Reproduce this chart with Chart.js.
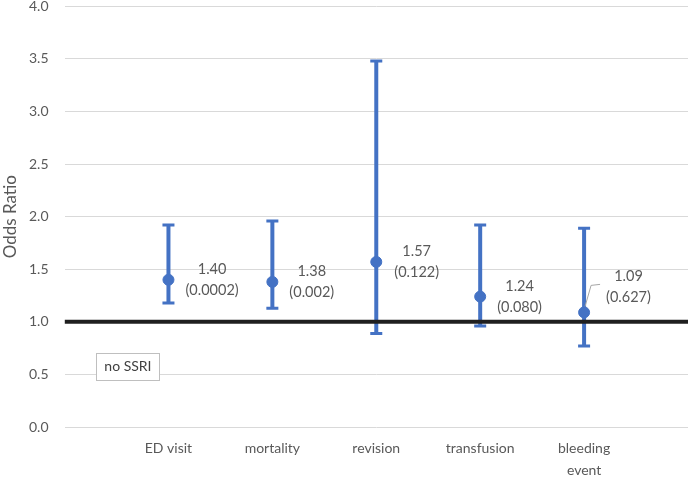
<!DOCTYPE html>
<html>
<head>
<meta charset="utf-8">
<script src="https://cdn.jsdelivr.net/npm/chart.js@4.4.1/dist/chart.umd.min.js"></script>
<style>
  html, body { margin: 0; padding: 0; background: #fff; overflow: hidden; }
  canvas { display: block; }
</style>
</head>
<body>
<canvas id="chart" width="694" height="477"></canvas>
<script>
// outcomes and odds ratios
const categories = ["ED visit", "mortality", "revision", "transfusion", ["bleeding", "event"]];
const oddsRatio = [1.40, 1.38, 1.57, 1.24, 1.09];
const ciLower = [1.18, 1.13, 0.89, 0.96, 0.77];
const ciUpper = [1.92, 1.96, 3.48, 1.92, 1.89];
const pValues = ["0.0002", "0.002", "0.122", "0.080", "0.627"];
const yTicks = [0, 0.5, 1.0, 1.5, 2.0, 2.5, 3.0, 3.5, 4.0];
const referenceValue = 1.0;

const BLUE = "#4472C4";
const GREY = "#595959";
const FONT = "Lato, 'Open Sans', sans-serif";
const NONE = "rgba(0,0,0,0)";

// error bars go under everything else
const errorBars = {
    id: "errorBars",
    beforeDatasetsDraw(chart) {
        const { ctx, scales: { x, y } } = chart;
        ctx.save();
        ctx.strokeStyle = BLUE;
        oddsRatio.forEach((v, i) => {
            const px = x.getPixelForValue(i + 1);
            const top = y.getPixelForValue(ciUpper[i]);
            const bottom = y.getPixelForValue(ciLower[i]);
            ctx.lineWidth = 4;
            ctx.beginPath();
            ctx.moveTo(px, top);
            ctx.lineTo(px, bottom);
            ctx.stroke();
            ctx.lineWidth = 3;
            ctx.beginPath();
            ctx.moveTo(px - 6, top);
            ctx.lineTo(px + 6, top);
            ctx.moveTo(px - 6, bottom);
            ctx.lineTo(px + 6, bottom);
            ctx.stroke();
        });
        ctx.restore();
    }
};

// value + p-value labels, and the "no SSRI" box
const annotations = {
    id: "annotations",
    afterDatasetsDraw(chart, args, opts) {
        const { ctx, scales: { x, y } } = chart;
        ctx.save();
        ctx.font = "14.5px " + FONT;
        ctx.textBaseline = "middle";
        ctx.textAlign = "center";
        oddsRatio.forEach((v, i) => {
            const px = x.getPixelForValue(i + 1);
            const py = y.getPixelForValue(v);
            const shift = opts.shifts[i] || [17, 0];
            const lines = [v.toFixed(2), "(" + pValues[i] + ")"];
            const w = Math.max(...lines.map(t => ctx.measureText(t).width));
            const cx = px + shift[0] + w / 2;
            const cy = py + shift[1];
            ctx.fillStyle = GREY;
            ctx.fillText(lines[0], cx, cy - 10.5);
            ctx.fillText(lines[1], cx, cy + 10.5);
            if (opts.leader[i]) {
                ctx.strokeStyle = "#a6a6a6";
                ctx.lineWidth = 1;
                ctx.beginPath();
                ctx.moveTo(px + 1, py - 6);
                ctx.lineTo(px + 7, py - 27);
                ctx.lineTo(px + 16, py - 28);
                ctx.stroke();
            }
        });

        // "no SSRI" box
        const bx = x.getPixelForValue(opts.box[0]);
        const by = y.getPixelForValue(opts.box[1]);
        const bw = 63, bh = 27;
        ctx.fillStyle = "#fff";
        ctx.fillRect(bx - bw / 2, by - bh / 2, bw, bh);
        ctx.strokeStyle = "#bfbfbf";
        ctx.lineWidth = 1;
        ctx.strokeRect(Math.round(bx - bw / 2) + 0.5, Math.round(by - bh / 2) + 0.5, bw, bh);
        ctx.fillStyle = "#404040";
        ctx.font = "14px " + FONT;
        ctx.fillText("no SSRI", bx, by);
        ctx.restore();
    }
};

new Chart(document.getElementById("chart"), {
    type: "scatter",
    data: {
        datasets: [
            {
                label: "OR",
                data: oddsRatio.map((v, i) => ({ x: i + 1, y: v })),
                backgroundColor: BLUE,
                borderColor: BLUE,
                pointRadius: 5.5,
                pointHoverRadius: 5.5,
                order: 0
            },
            {
                label: "reference",
                type: "line",
                data: [{ x: 0, y: referenceValue }, { x: categories.length + 1, y: referenceValue }],
                borderColor: "#1f1f1f",
                borderWidth: 4,
                pointRadius: 0,
                order: 1
            }
        ]
    },
    options: {
        responsive: false,
        animation: false,
        layout: { autoPadding: false, padding: { top: 0, right: 6, bottom: -4, left: 0 } },
        plugins: {
            legend: { display: false },
            tooltip: { enabled: false },
            annotations: {
                shifts: [[17, 0], [17, 0], [18, 0], [17, 0], [22, -26]],
                leader: [false, false, false, false, true],
                box: [0.61, 0.575]
            }
        },
        scales: {
            x: {
                type: "linear",
                min: 0,
                max: categories.length + 1,
                // invisible tick marks keep the labels off the axis
                grid: { display: true, color: NONE, drawTicks: true, tickLength: 10, tickColor: NONE },
                border: { display: false },
                afterBuildTicks: axis => {
                    axis.ticks = [0, 1, 2, 3, 4, 5, 6].map(v => ({ value: v }));
                },
                ticks: {
                    autoSkip: false,
                    maxRotation: 0,
                    padding: 0,
                    color: GREY,
                    font: { family: FONT, size: 14, lineHeight: 1.57 },
                    callback: v => categories[v - 1] || ""
                }
            },
            y: {
                min: 0,
                max: 4,
                afterBuildTicks: axis => {
                    axis.ticks = yTicks.map(v => ({ value: v }));
                },
                grid: { color: "#d9d9d9", lineWidth: 1, drawTicks: true, tickLength: 16, tickColor: NONE },
                border: { display: false },
                ticks: {
                    padding: 0,
                    color: GREY,
                    font: { family: FONT, size: 14, lineHeight: 0.9 },
                    callback: v => v.toFixed(1)
                },
                title: {
                    display: true,
                    text: "Odds Ratio",
                    color: GREY,
                    font: { family: FONT, size: 17 },
                    padding: { top: 0, bottom: 8.6 }
                }
            }
        }
    },
    plugins: [errorBars, annotations]
});
</script>
</body>
</html>
